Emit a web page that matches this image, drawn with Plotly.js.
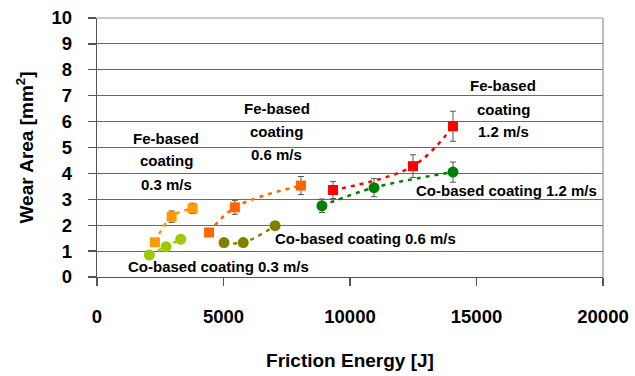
<!DOCTYPE html>
<html>
<head>
<meta charset="utf-8">
<script src="https://cdn.plot.ly/plotly-3.0.1.min.js"></script>
<style>html,body{margin:0;padding:0;background:#fff;}#chart{width:635px;height:376px;}</style>
</head>
<body>
<div id="chart"></div>
<script>
// Friction energy [J] and wear area [mm2] per series
const seriesNames = ["Fe-based coating 0.3 m/s", "Fe-based coating 0.6 m/s", "Fe-based coating 1.2 m/s",
                     "Co-based coating 0.3 m/s", "Co-based coating 0.6 m/s", "Co-based coating 1.2 m/s"];
const fe03X = [2290, 2950, 3780];
const fe03Y = [1.34, 2.33, 2.65];
const fe03Err = [0, 0.22, 0.20];
const fe06X = [4430, 5450, 8060];
const fe06Y = [1.72, 2.69, 3.53];
const fe06Err = [0.08, 0.27, 0.35];
const fe12X = [9330, 12490, 14070];
const fe12Y = [3.36, 4.28, 5.82];
const fe12Err = [0.33, 0.44, 0.58];
const co03X = [2070, 2730, 3310];
const co03Y = [0.85, 1.17, 1.46];
const co03Err = [0, 0, 0];
const co06X = [5020, 5780, 7040];
const co06Y = [1.33, 1.33, 1.98];
const co06Err = [0, 0, 0.08];
const co12X = [8890, 10950, 14070];
const co12Y = [2.75, 3.45, 4.05];
const co12Err = [0.26, 0.35, 0.39];
const xTicks = [0, 5000, 10000, 15000, 20000];
const yTicks = [0, 1, 2, 3, 4, 5, 6, 7, 8, 9, 10];

const FONT = '"Liberation Sans", Arial, sans-serif';

function tr(name, x, y, err, color, symbol, size) {
  return {
    name: name, x: x, y: y, type: 'scatter', mode: 'lines+markers',
    line: {color: color, width: 2.5, dash: '4px,5px', shape: 'spline', smoothing: 1},
    marker: {color: color, symbol: symbol, size: size},
    error_y: {type: 'data', array: err, visible: true, color: '#555', thickness: 1, width: 3},
    hoverinfo: 'x+y'
  };
}

const data = [
  tr(seriesNames[0], fe03X, fe03Y, fe03Err, '#FF9900', 'square', 10),
  tr(seriesNames[1], fe06X, fe06Y, fe06Err, '#FF6600', 'square', 10),
  tr(seriesNames[2], fe12X, fe12Y, fe12Err, '#FF0000', 'square', 10),
  tr(seriesNames[3], co03X, co03Y, co03Err, '#99CC00', 'circle', 11),
  tr(seriesNames[4], co06X, co06Y, co06Err, '#808000', 'circle', 11),
  tr(seriesNames[5], co12X, co12Y, co12Err, '#008000', 'circle', 11)
];

function ann(text, x, y) {
  return {text: text, x: x, y: y, xref: 'x', yref: 'y', showarrow: false,
          font: {family: FONT, size: 15, color: '#000', weight: 'bold'}, xanchor: 'center', yanchor: 'middle'};
}

const layout = {
  width: 635, height: 376,
  margin: {l: 97, r: 32, t: 18, b: 99},
  paper_bgcolor: '#fff', plot_bgcolor: '#fff',
  showlegend: false,
  font: {family: FONT, color: '#000'},
  xaxis: {
    range: [0, 20000], tickvals: xTicks, ticktext: xTicks.map(String),
    showgrid: false, zeroline: false, showline: true, linecolor: '#555', linewidth: 1.3,
    ticks: 'outside', ticklen: 8, tickcolor: '#555', tickwidth: 1.3,
    tickfont: {family: FONT, size: 18.5, color: '#000', weight: 'bold'},
    ticklabelstandoff: 14,
    title: {text: 'Friction Energy [J]', font: {family: FONT, size: 19, color: '#000', weight: 'bold'}, standoff: 28},
    automargin: false
  },
  yaxis: {
    range: [0, 10], tickvals: yTicks, ticktext: yTicks.map(String),
    showgrid: true, gridcolor: '#6a6a6a', gridwidth: 1,
    zeroline: false, showline: true, linecolor: '#555', linewidth: 1.3,
    ticks: 'outside', ticklen: 8, tickcolor: '#555', tickwidth: 1.3,
    tickfont: {family: FONT, size: 18.5, color: '#000', weight: 'bold'},
    ticklabelstandoff: 12,
    title: {text: 'Wear Area [mm<sup>2</sup>]', font: {family: FONT, size: 19, color: '#000', weight: 'bold'}, standoff: 12},
    automargin: false
  },
  shapes: [
    {type: 'line', xref: 'paper', yref: 'paper', x0: 0, x1: 1, y0: 1, y1: 1, line: {color: '#bbb', width: 1.3}, layer: 'above'},
    {type: 'line', xref: 'paper', yref: 'paper', x0: 1, x1: 1, y0: 0, y1: 1, line: {color: '#999', width: 1.3}, layer: 'above'}
  ],
  annotations: [
    ann('Fe-based', 2730, 5.36), ann('coating', 2730, 4.51), ann('0.3 m/s', 2730, 3.58),
    ann('Fe-based', 7110, 6.51), ann('coating', 7110, 5.63), ann('0.6 m/s', 7110, 4.74),
    ann('Fe-based', 16050, 7.40), ann('coating', 16050, 6.47), ann('1.2 m/s', 16050, 5.63),
    ann('Co-based coating 0.3 m/s', 4820, 0.39),
    ann('Co-based coating 0.6 m/s', 10630, 1.50),
    ann('Co-based coating 1.2 m/s', 16200, 3.33)
  ]
};

Plotly.newPlot('chart', data, layout, {staticPlot: true, displayModeBar: false});
</script>
</body>
</html>
